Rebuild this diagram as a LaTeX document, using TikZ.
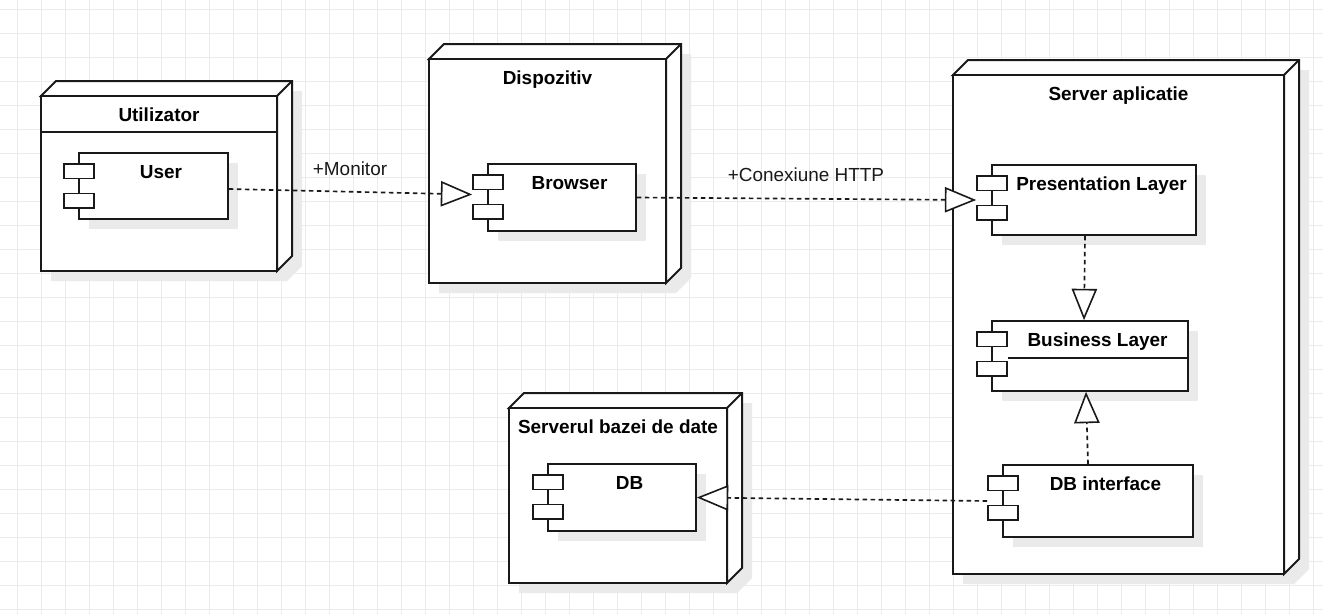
\documentclass[tikz,border=0pt]{standalone}
\usepackage{fontspec}
\setmainfont{Liberation Sans}
\usetikzlibrary{arrows.meta,calc,fit}
\definecolor{gridc}{RGB}{235,235,235}
\definecolor{shad}{RGB}{234,234,234}
\definecolor{ink}{RGB}{25,25,25}
\tikzset{
  nodeline/.style={draw=ink, line width=1.5pt, line join=miter},
  compbox/.style={draw=ink, line width=1.25pt, fill=white, inner sep=0pt},
  ntitle/.style={font=\fontsize{14.2pt}{17pt}\selectfont\bfseries, inner sep=0pt, anchor=base},
  ctext/.style={font=\fontsize{14.2pt}{17pt}\selectfont\bfseries, inner sep=0pt, anchor=base},
  lbl/.style={font=\fontsize{14.2pt}{17pt}\selectfont, inner sep=0pt, text=ink, anchor=base},
  dep/.style={draw=ink, line width=1.25pt, dash pattern=on 3.4pt off 2.6pt,
    -{Triangle[length=23.5pt,width=19pt,fill=white,line width=1.2pt]}}
}
\newcommand\depnode[6]{% name L T R B title
  \fill[shad] (#2+10,#3+10) -- (#2+25,#3-5) -- (#4+25,#3-5) -- (#4+25,#5-5) -- (#4+10,#5+10) -- (#2+10,#5+10) -- cycle;
  \filldraw[nodeline, fill=white] (#2,#3) -- (#2+15,#3-15) -- (#4+15,#3-15) -- (#4+15,#5-15) -- (#4,#5) -- (#4,#3) -- cycle;
  \draw[nodeline] (#4,#3) -- (#4+15,#3-15);
  \node[fit={(#2,#3) (#4,#5)}, inner sep=0pt, nodeline, fill=white] (#1) {};
  \node[ntitle] (#1-t) at ({(#2+#4)/2},#3+25.5) {#6};
}
\newcommand\compo[6]{% name L T R B text
  \fill[shad] (#2+10,#3+10) rectangle (#4+10,#5+10);
  \node[fit={(#2,#3) (#4,#5)}, compbox] (#1) {};
  \node[fit={(#2-15,#3+11) (#2+15,#3+25.5)}, compbox] (#1-p1) {};
  \node[fit={(#2-15,#3+40.5) (#2+15,#3+55)}, compbox] (#1-p2) {};
  \node[ctext] (#1-t) at ({(#2+15+#4)/2},#3+25.5) {#6};
}
\begin{document}
\begin{tikzpicture}[x=0.75pt,y=-0.75pt]
\useasboundingbox (0,0) rectangle (1323,614);
\fill[white] (0,0) rectangle (1323,614);
\foreach \x in {17,41,...,1313} \draw[gridc, line width=0.6pt] (\x,0) -- (\x,614);
\foreach \y in {9,33,...,609} \draw[gridc, line width=0.6pt] (0,\y) -- (1323,\y);

% deployment nodes
\depnode{utiliz}{41}{96}{277}{271}{Utilizator}
\coordinate (usep) at (0,132);
\draw[nodeline] (utiliz.west |- usep) -- (utiliz.east |- usep);
\depnode{disp}{429}{59}{666}{283}{Dispozitiv}
\depnode{server}{953}{75}{1284}{574}{Server aplicatie}
\depnode{dbsrv}{509}{408}{727}{583}{Serverul bazei de date}

% components
\compo{user}{79}{153}{228}{219}{User}
\compo{browser}{488}{164}{636}{231}{Browser}
\compo{pres}{992}{165}{1196}{235}{Presentation Layer}
\compo{bus}{992}{321}{1188}{391}{Business Layer}
\coordinate (bsep) at (0,358);
\draw[ink, line width=1.25pt] (bus-p1.east |- bsep) -- (bus.east |- bsep);
\compo{dbi}{1003}{465}{1193}{537}{DB interface}
\compo{db}{548}{464}{696}{531}{DB}

% connectors
\draw[dep] ($(user.east)+(0,3)$) -- ($(browser.west -| browser-p1.west)+(0,-3)$);
\draw[dep] (browser.east) -- (pres.west -| pres-p1.west);
\draw[dep] ($(pres.south)+(-9,0)$) -- ($(bus.north)+(-6,0)$);
\draw[dep] ($(dbi.north)+(-10,0)$) -- ($(bus.south)+(-4,0)$);
\draw[dep] (dbi.west -| dbi-p1.west) -- (db.east);

% labels
\node[lbl] (monitor) at (350,175) {+Monitor};
\node[lbl] (http) at (806,181) {+Conexiune HTTP};
\end{tikzpicture}
\end{document}
